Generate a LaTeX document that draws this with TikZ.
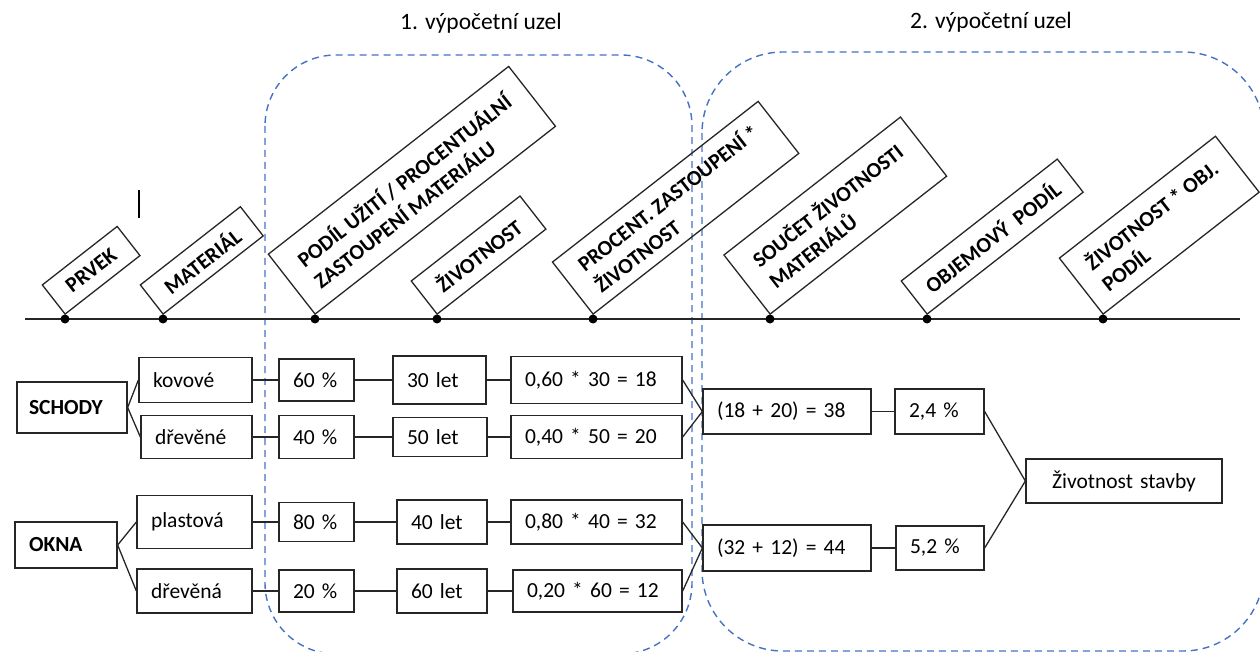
\documentclass[tikz,border=0pt]{standalone}
\usepackage{fontspec}
\setmainfont{Carlito}
\begin{document}
\begin{tikzpicture}[x=1pt, y=-1pt,
    box/.style={draw=black!85, line width=1.3pt, inner xsep=14pt, inner ysep=2pt,
        align=left, font=\fontsize{21.5}{26}\selectfont},
    head/.style={draw=black!85, line width=1.3pt, rotate=38, anchor=south west,
        inner sep=2pt, align=left, font=\fontsize{21.5}{27}\selectfont\bfseries},
    link/.style={draw=black!85, line width=1.3pt}]
    \useasboundingbox (0,0) rectangle (1260,652);

    \definecolor{uzelblue}{HTML}{4472C4}
    % y of the time line
    \def\ty{319}

    % Macro for a tilted column heading standing on its dot of the time line
    \newcommand{\colhead}[5]{
        \node[head, minimum width=#3pt, minimum height=#4pt] (#1) at (#2,\ty-4) {#5};
        \fill[black] (#2,\ty) circle (4.5);
    }

    % Computing nodes (dashed, cut by the page edge)
    \begin{scope}
        \clip (0,0) rectangle (1260,652);
        \draw[uzelblue, line width=1.4pt, dash pattern=on 7pt off 5pt, rounded corners=71pt]
            (265,55) rectangle (692,654);
        \draw[uzelblue, line width=1.4pt, dash pattern=on 7pt off 5pt, rounded corners=81pt]
            (702,52) rectangle (1264,651);
    \end{scope}
    \node[font=\fontsize{23.5}{28}\selectfont] (uzel1) at (481,23) {1. výpočetní uzel};
    \node[font=\fontsize{23.5}{28}\selectfont] (uzel2) at (991,22) {2. výpočetní uzel};

    % Time line with the column headings
    \draw[line width=1.5pt, black!85] (25,\ty) -- (1240,\ty);
    \colhead{prvek}{65}{95}{37}{PRVEK}
    \colhead{material}{163}{127}{37}{MATERIÁL}
    \colhead{podil}{315}{305}{76}{PODÍL UŽITÍ / PROCENTUÁLNÍ\\ZASTOUPENÍ MATERIÁLU}
    \colhead{zivot}{437}{138}{42}{ŽIVOTNOST}
    \colhead{procent}{593}{261}{66}{PROCENT. ZASTOUPENÍ *\\ŽIVOTNOST}
    \colhead{soucet}{770}{224}{75}{SOUČET ŽIVOTNOSTI\\MATERIÁLŮ}
    \colhead{objem}{927}{198}{42}{OBJEMOVÝ\ \ PODÍL}
    \colhead{zivobj}{1103}{198}{71}{ŽIVOTNOST * OBJ.\\PODÍL}
    \draw[line width=1.3pt] (139,190) -- (139,218);

    % Elements and materials
    \node[box, inner xsep=12pt, text width=86pt, minimum height=51pt, font=\fontsize{21.5}{26}\selectfont\bfseries] (schody) at (72,407.5) {SCHODY};
    \node[box, text width=74pt, minimum height=46pt, font=\fontsize{21.5}{26}\selectfont\bfseries] (okna) at (66,545) {OKNA};
    \node[box, text width=85pt, minimum height=45pt] (kovove) at (195.5,380) {kovové};
    \node[box, text width=83pt, minimum height=43pt] (dreveneS) at (196.5,437) {dřevěné};
    \node[box, text width=87pt, minimum height=53pt] (plastova) at (194.5,522) {plastová};
    \node[box, text width=87pt, minimum height=44pt] (drevena) at (194.5,591) {dřevěná};

    % Shares
    \node[box, text width=47pt, minimum height=42pt] (p60) at (316.5,380) {60 \%};
    \node[box, text width=47pt, minimum height=43pt] (p40) at (316.5,437) {40 \%};
    \node[box, text width=47pt, minimum height=39pt] (p80) at (316.5,522) {80 \%};
    \node[box, text width=47pt, minimum height=42pt] (p20) at (316.5,591) {20 \%};

    % Service lives
    \node[box, text width=65pt, minimum height=48pt] (l30) at (439.5,380) {30 let};
    \node[box, text width=66pt, minimum height=39pt] (l50) at (440,437) {50 let};
    \node[box, text width=62pt, minimum height=44pt] (l40) at (442,522) {40 let};
    \node[box, text width=62pt, minimum height=44pt] (l60) at (442,591) {60 let};

    % Weighted lives
    \node[box, text width=143pt, minimum height=47pt] (v18) at (596.5,380) {0,60 * 30 = 18};
    \node[box, text width=143pt, minimum height=43pt] (v20) at (596.5,437) {0,40 * 50 = 20};
    \node[box, text width=143pt, minimum height=44pt] (v32) at (596.5,522) {0,80 * 40 = 32};
    \node[box, text width=141pt, minimum height=42pt] (v12) at (597.5,591) {0,20 * 60 = 12};

    % Sums, volume shares, result
    \node[box, text width=140pt, minimum height=45pt] (s38) at (787,411.5) {(18 + 20) = 38};
    \node[box, text width=61pt, minimum height=45pt] (o24) at (939.5,411.5) {2,4 \%};
    \node[box, text width=140pt, minimum height=46pt] (s44) at (787,548) {(32 + 12) = 44};
    \node[box, text width=60pt, minimum height=44pt] (o52) at (940,548) {5,2 \%};
    \node[box, inner xsep=20pt, text width=156pt, align=center, minimum height=44pt] (stavba) at (1124,481) {Životnost stavby};

    % Connectors
    \draw[link] (schody.east) -- (kovove.west);
    \draw[link] (schody.east) -- (dreveneS.west);
    \draw[link] (okna.east) -- (plastova.west);
    \draw[link] (okna.east) -- (drevena.west);
    \draw[link] (kovove) -- (p60) -- (l30) -- (v18);
    \draw[link] (dreveneS) -- (p40) -- (l50) -- (v20);
    \draw[link] (plastova) -- (p80) -- (l40) -- (v32);
    \draw[link] (drevena) -- (p20) -- (l60) -- (v12);
    \draw[link] (v18.east) -- (s38.west);
    \draw[link] (v20.east) -- (s38.west);
    \draw[link] (v32.east) -- (s44.west);
    \draw[link] (v12.east) -- (s44.west);
    \draw[link] (s38) -- (o24);
    \draw[link] (s44) -- (o52);
    \draw[link] (o24.east) -- (stavba.west);
    \draw[link] (o52.east) -- (stavba.west);
\end{tikzpicture}
\end{document}
